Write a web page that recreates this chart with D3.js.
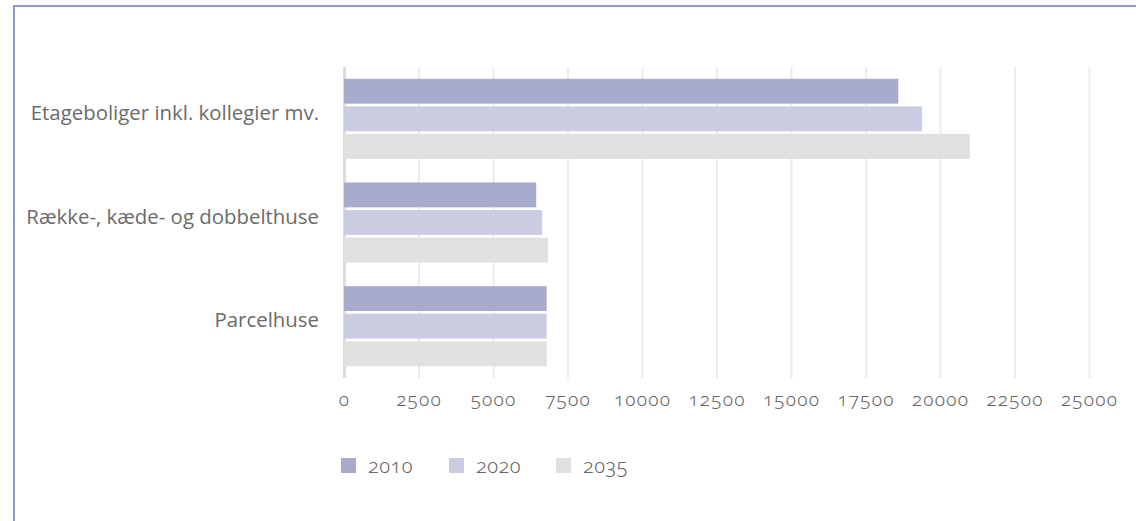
<!DOCTYPE html>
<html>
<head>
<meta charset="utf-8">
<script src="https://cdn.jsdelivr.net/npm/d3@7"></script>
<style>
  body { margin: 0; background: #fff; }
  svg { display: block; }
</style>
</head>
<body>
<script>
// data
var categories = ["Etageboliger inkl. kollegier mv.", "Række-, kæde- og dobbelthuse", "Parcelhuse"];
var years = ["2010", "2020", "2035"];
var values2010 = [18600, 6450, 6800];
var values2020 = [19400, 6650, 6800];
var values2035 = [21000, 6850, 6800];
var tickValues = [0, 2500, 5000, 7500, 10000, 12500, 15000, 17500, 20000, 22500, 25000];
var colors = ["#a9abcc", "#cacce1", "#e0e0e0"];

var series = [values2010, values2020, values2035];

var width = 1136, height = 521;
var plotLeft = 344, plotRight = 1089, plotTop = 67, plotBottom = 378;

var svg = d3.select("body").append("svg")
    .attr("width", width)
    .attr("height", height);

// frame lines (top and left)
svg.append("line")
    .attr("x1", 14).attr("x2", width).attr("y1", 6).attr("y2", 6)
    .style("stroke", "#8f9cc9").style("stroke-width", 2);
svg.append("line")
    .attr("x1", 14).attr("x2", 14).attr("y1", 5).attr("y2", height)
    .style("stroke", "#8f9cc9").style("stroke-width", 2);

var xScale = d3.scaleLinear().domain([0, 25000]).range([plotLeft, plotRight]);

var yScale = d3.scaleBand()
    .domain(categories)
    .range([plotTop, plotBottom])
    .paddingInner(0.228)
    .paddingOuter(0.114);

var ySub = d3.scaleBand()
    .domain(years)
    .range([0, yScale.bandwidth()])
    .paddingInner(0.1);

// gridlines + tick labels
var xAxis = d3.axisBottom(xScale)
    .tickValues(tickValues)
    .tickSize(-(plotBottom - plotTop))
    .tickPadding(15)
    .tickFormat(d3.format("d"));

var gx = svg.append("g")
    .attr("transform", "translate(0," + plotBottom + ")")
    .call(xAxis);
gx.select(".domain").remove();
gx.selectAll(".tick line")
    .style("stroke", function (d) { return d === 0 ? "#dcdcdc" : "#ececec"; })
    .style("stroke-width", function (d) { return d === 0 ? 3 : 2; });
gx.selectAll(".tick text")
    .style("font-family", "'Noto Sans', sans-serif")
    .style("font-feature-settings", "'onum' 1")
    .style("font-size", "19px")
    .style("letter-spacing", "1.2px")
    .style("font-weight", 300)
    .style("fill", "#666");

// bars
var groups = svg.selectAll(".cat")
    .data(categories)
    .enter().append("g")
    .attr("class", "cat")
    .attr("transform", function (d) { return "translate(0," + yScale(d) + ")"; });

years.forEach(function (yr, j) {
    groups.append("rect")
        .attr("x", xScale(0))
        .attr("y", ySub(yr))
        .attr("width", function (d, i) { return xScale(series[j][i]) - xScale(0); })
        .attr("height", ySub.bandwidth())
        .style("fill", colors[j]);
});

// category labels
svg.selectAll(".catlabel")
    .data(categories)
    .enter().append("text")
    .attr("class", "catlabel")
    .attr("x", 319)
    .attr("y", function (d) { return yScale(d) + yScale.bandwidth() / 2 - 6; })
    .attr("dy", "0.35em")
    .attr("text-anchor", "end")
    .text(function (d) { return d; })
    .style("font-family", "'Open Sans', sans-serif")
    .style("font-size", "20.4px")
    .style("fill", "#6a6a6a");

// legend
var legendX = [341, 449, 556];
var legend = svg.selectAll(".legend")
    .data(years)
    .enter().append("g")
    .attr("class", "legend")
    .attr("transform", function (d, i) { return "translate(" + legendX[i] + ",458)"; });
legend.append("rect")
    .attr("width", 15).attr("height", 15)
    .style("fill", function (d, i) { return colors[i]; });
legend.append("text")
    .attr("x", 27)
    .attr("y", 8)
    .attr("dy", "0.35em")
    .text(function (d) { return d; })
    .style("font-family", "'Noto Sans', sans-serif")
    .style("font-feature-settings", "'onum' 1")
    .style("font-size", "20px")
    .style("letter-spacing", "0.5px")
    .style("font-weight", 300)
    .style("fill", "#666");
</script>
</body>
</html>
